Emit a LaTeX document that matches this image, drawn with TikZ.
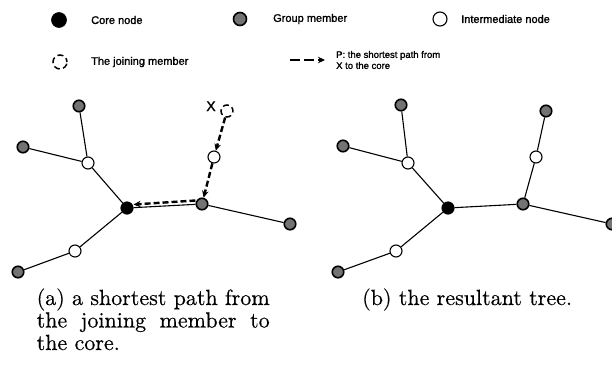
\documentclass[tikz,border=0pt]{standalone}
\usepackage{fontspec}
\newfontfamily\legendfont[FakeBold=1.5]{Liberation Sans}
\newfontfamily\capfont[Extension=.otf, FakeBold=0.4]{lmroman10-regular}
\usetikzlibrary{arrows.meta}
\begin{document}
\begin{tikzpicture}[x=1pt, y=-1pt,
  core/.style={circle, fill=black, draw=black, line width=0.6pt, inner sep=0pt, minimum size=12.5pt},
  member/.style={circle, draw=black, line width=1.6pt, fill=black!55, inner sep=0pt, minimum size=11.5pt},
  inter/.style={circle, draw=black, line width=1.1pt, fill=white, inner sep=0pt, minimum size=12pt},
  joining/.style={circle, draw=black, line width=1.5pt, dash pattern=on 6pt off 3.5pt, dash phase=2pt, fill=white, inner sep=0pt, minimum size=12pt},
  edge/.style={line width=1.1pt},
  ppath/.style={line width=2.4pt, dash pattern=on 6pt off 3pt, -{Stealth[length=7pt, width=6.5pt]}},
  legtext/.style={anchor=west, inner sep=0pt, font=\legendfont\fontsize{11}{12}\selectfont},
  caption/.style={anchor=base west, inner sep=0pt, text width=233pt, align=justify,
    font=\capfont\fontsize{22}{22.5}\selectfont}]
\useasboundingbox (0,0) rectangle (612,367);
\clip (0,0) rectangle (612,367);

% ---- legend ----
\node[core, minimum size=15pt] (lgcore) at (59,20) {};
\node[legtext] (lgcoret) at (91,20) {Core node};
\node[member, minimum size=13pt] (lgmem) at (240,19) {};
\node[legtext] (lgmemt) at (273,19) {Group member};
\node[inter, minimum size=14pt] (lgint) at (440,19) {};
\node[legtext] (lgintt) at (461,19) {Intermediate node};
\node[joining, minimum size=14pt] (lgjoin) at (60,62) {};
\node[legtext] (lgjoint) at (91,62) {The joining member};
\coordinate (lgpa) at (290,60);
\coordinate (lgpb) at (325,60);
\draw[ppath, dash pattern=on 10pt off 4pt] (lgpa) -- (lgpb);
\node[legtext, align=left, font=\legendfont\fontsize{9.5}{11}\selectfont] (lgpt) at (336,60)
  {P: the shortest path from\\X to the core};

% ---- (a) the shortest path from X to the core ----
\node[member] (aTop)  at (79,106) {};
\node[member] (aLeft) at (23,147) {};
\node[inter]  (aIU)   at (88,163) {};
\node[core]   (aCore) at (127,208) {};
\node[member] (aG)    at (202,204) {};
\node[member] (aR)    at (290,224) {};
\node[inter]  (aIR)   at (214,157) {};
\node[joining] (aX)   at (227,111) {};
\node[inter]  (aIL)   at (75,251) {};
\node[member] (aBot)  at (18,272) {};
\node[anchor=base, inner sep=0pt, font=\legendfont\fontsize{14}{14}\selectfont] (aXt) at (211,111) {X};

\draw[edge] (aTop) -- (aIU);
\draw[edge] (aLeft) -- (aIU);
\draw[edge] (aIU) -- (aCore);
\draw[edge] (aCore) -- (aG);
\draw[edge] (aG) -- (aR);
\draw[edge] (aCore) -- (aIL);
\draw[edge] (aIL) -- (aBot);

\draw[ppath] (aX) -- (aIR);
\draw[ppath] (aIR) -- (aG);
\draw[ppath] ([yshift=3.5pt]aG.west) -- ([yshift=3.5pt]aCore.east);

% ---- (b) the resultant tree ----
\node[member] (bTop)  at (401,105) {};
\node[member] (bLeft) at (343,146) {};
\node[inter]  (bIU)   at (408,163) {};
\node[core]   (bCore) at (448,208) {};
\node[member] (bG)    at (523,204) {};
\node[member] (bR)    at (612,224) {};
\node[inter]  (bIR)   at (536,157) {};
\node[member] (bUp)   at (546,111) {};
\node[inter]  (bIL)   at (396,251) {};
\node[member] (bBot)  at (338,272) {};

\draw[edge] (bTop) -- (bIU);
\draw[edge] (bLeft) -- (bIU);
\draw[edge] (bIU) -- (bCore);
\draw[edge] (bCore) -- (bG);
\draw[edge] (bG) -- (bR);
\draw[edge] (bG) -- (bIR);
\draw[edge] (bIR) -- (bUp);
\draw[edge] (bCore) -- (bIL);
\draw[edge] (bIL) -- (bBot);

% ---- captions ----
\node[caption] (capa) at (36.5,305)
  {(a) a shortest path from\linebreak the joining member to\linebreak the core.};
\node[anchor=base west, inner sep=0pt, font=\capfont\fontsize{22}{22.5}\selectfont] (capb) at (362,305)
  {(b) the resultant tree.};
\end{tikzpicture}
\end{document}
